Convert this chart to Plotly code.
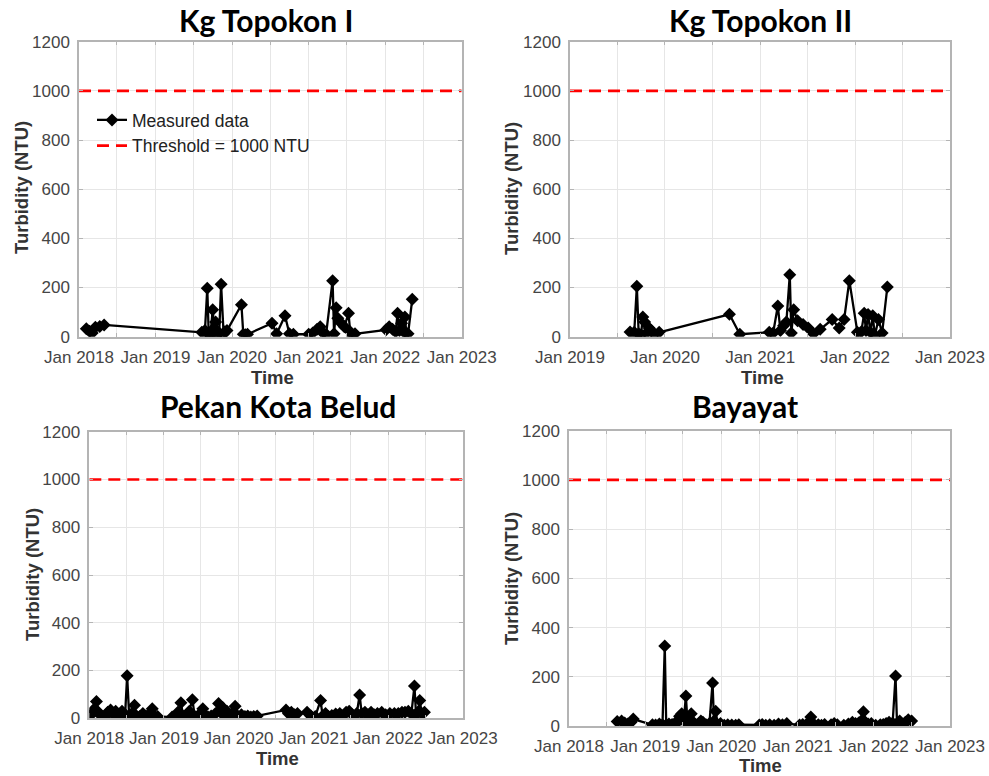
import plotly.graph_objects as go

W, H = 989, 776
THRESHOLD = 1000

# ---- Kg Topokon I ----
topokon1_dates = [
    "2018-02-05", "2018-02-20", "2018-03-05", "2018-03-20", "2018-04-10", "2018-05-01",
    "2019-08-10", "2019-08-25", "2019-09-05", "2019-09-12", "2019-09-20", "2019-10-01",
    "2019-10-08", "2019-10-15", "2019-10-22", "2019-11-01", "2019-11-10", "2019-11-22",
    "2019-11-28", "2019-12-08", "2020-02-15", "2020-02-24", "2020-03-05", "2020-03-15",
    "2020-07-10", "2020-08-01", "2020-09-10", "2020-10-01", "2020-10-20", "2021-01-01",
    "2021-01-20", "2021-02-10", "2021-02-25", "2021-03-10", "2021-03-25", "2021-04-25",
    "2021-05-02", "2021-05-12", "2021-05-20", "2021-06-05", "2021-06-20", "2021-07-10",
    "2021-07-18", "2021-07-28", "2021-08-10", "2022-01-05", "2022-01-20", "2022-02-05",
    "2022-02-20", "2022-03-01", "2022-03-10", "2022-03-20", "2022-03-30", "2022-04-05",
    "2022-04-12", "2022-04-20", "2022-05-10",
]
topokon1_ntu = [
    32, 22, 15, 38, 42, 48,
    18, 25, 197, 10, 5, 110,
    35, 60, 8, 15, 213, 12,
    20, 25, 130, 10, 8, 10,
    55, 12, 85, 12, 10, 10,
    15, 30, 40, 15, 10, 228,
    12, 118, 75, 55, 40, 95,
    20, 5, 12, 28, 40, 30,
    20, 95, 25, 55, 20, 80,
    15, 12, 152,
]

# ---- Kg Topokon II ----
topokon2_dates = [
    "2019-08-20", "2019-09-05", "2019-09-15", "2019-09-22", "2019-10-01", "2019-10-08",
    "2019-10-15", "2019-10-22", "2019-11-01", "2019-11-10", "2019-11-20", "2019-12-10",
    "2020-09-05", "2020-10-15", "2021-02-05", "2021-02-20", "2021-03-10", "2021-03-20",
    "2021-04-01", "2021-04-12", "2021-04-25", "2021-05-01", "2021-05-10", "2021-05-25",
    "2021-06-15", "2021-07-05", "2021-07-25", "2021-08-20", "2021-10-05", "2021-11-01",
    "2021-11-20", "2021-12-10", "2022-01-10", "2022-01-25", "2022-02-05", "2022-02-12",
    "2022-02-20", "2022-03-01", "2022-03-10", "2022-03-18", "2022-04-01", "2022-04-15",
    "2022-05-05",
]
topokon2_ntu = [
    19, 18, 205, 12, 8, 80,
    60, 15, 35, 25, 10, 18,
    91, 10, 18, 15, 125, 25,
    45, 60, 252, 15, 110, 65,
    50, 35, 12, 30, 70, 35,
    70, 228, 18, 20, 95, 25,
    90, 18, 85, 5, 70, 15,
    202,
]

# ---- Pekan Kota Belud ----
kotabelud_dates = [
    "2018-01-10", "2018-01-20", "2018-02-05", "2018-02-15", "2018-02-28", "2018-03-10",
    "2018-03-20", "2018-04-01", "2018-04-15", "2018-04-25", "2018-05-10", "2018-05-25",
    "2018-06-10", "2018-06-25", "2018-07-05", "2018-07-15", "2018-07-28", "2018-08-10",
    "2018-08-20", "2018-09-05", "2018-09-20", "2018-10-05", "2018-10-20", "2018-11-05",
    "2018-11-15", "2018-12-01", "2019-02-10", "2019-02-25", "2019-03-10", "2019-03-25",
    "2019-04-05", "2019-04-20", "2019-05-05", "2019-05-20", "2019-06-01", "2019-06-15",
    "2019-07-01", "2019-07-10", "2019-07-20", "2019-08-05", "2019-08-20", "2019-09-10",
    "2019-09-25", "2019-10-05", "2019-10-15", "2019-10-25", "2019-11-05", "2019-11-15",
    "2019-12-01", "2019-12-15", "2019-12-28", "2020-01-15", "2020-02-01", "2020-02-15",
    "2020-03-01", "2020-03-15", "2020-04-01", "2020-08-20", "2020-09-01", "2020-09-15",
    "2020-10-01", "2020-10-15", "2020-12-01", "2020-12-20", "2021-01-10", "2021-02-05",
    "2021-02-15", "2021-03-01", "2021-03-15", "2021-04-01", "2021-04-20", "2021-05-10",
    "2021-05-25", "2021-06-10", "2021-06-25", "2021-07-10", "2021-08-01", "2021-08-15",
    "2021-08-25", "2021-09-10", "2021-09-25", "2021-10-10", "2021-10-25", "2021-11-10",
    "2021-12-01", "2021-12-20", "2022-01-10", "2022-02-01", "2022-02-20", "2022-03-10",
    "2022-03-25", "2022-04-10", "2022-04-25", "2022-05-10", "2022-05-18", "2022-05-26",
    "2022-06-05", "2022-06-15", "2022-06-28",
]
kotabelud_ntu = [
    15, 35, 70, 25, 10, 5,
    8, 25, 35, 20, 30, 10,
    30, 15, 178, 10, 20, 55,
    10, 8, 20, 10, 15, 40,
    10, 8, 5, 10, 25, 65,
    10, 5, 30, 78, 8, 10,
    20, 40, 15, 5, 10, 20,
    62, 25, 45, 10, 30, 5,
    20, 50, 10, 15, 8, 10,
    5, 8, 10, 35, 20, 25,
    15, 20, 25, 10, 8, 75,
    10, 20, 8, 12, 18, 20,
    10, 25, 30, 15, 20, 98,
    20, 25, 15, 25, 15, 20,
    25, 15, 20, 20, 20, 25,
    25, 30, 20, 135, 15, 25,
    75, 20, 25,
]

# ---- Bayayat ----
bayayat_dates = [
    "2018-08-20", "2018-09-10", "2018-09-25", "2018-10-10", "2018-10-25", "2018-11-05",
    "2019-02-05", "2019-02-20", "2019-03-10", "2019-03-25", "2019-04-05", "2019-04-12",
    "2019-04-25", "2019-05-10", "2019-05-25", "2019-06-05", "2019-06-15", "2019-06-25",
    "2019-07-05", "2019-07-15", "2019-07-22", "2019-08-01", "2019-08-10", "2019-08-20",
    "2019-09-01", "2019-09-15", "2019-09-25", "2019-10-05", "2019-10-20", "2019-11-05",
    "2019-11-20", "2019-11-27", "2019-12-05", "2019-12-15", "2019-12-28", "2020-01-15",
    "2020-02-01", "2020-02-20", "2020-03-10", "2020-03-25", "2020-07-01", "2020-07-15",
    "2020-08-01", "2020-08-20", "2020-09-10", "2020-10-01", "2020-10-20", "2020-11-10",
    "2021-01-10", "2021-01-25", "2021-02-10", "2021-02-25", "2021-03-05", "2021-03-15",
    "2021-03-25", "2021-04-10", "2021-04-25", "2021-05-10", "2021-06-10", "2021-06-25",
    "2021-07-10", "2021-08-10", "2021-09-01", "2021-09-20", "2021-10-05", "2021-10-20",
    "2021-11-01", "2021-11-12", "2021-11-22", "2021-12-05", "2021-12-20", "2022-01-10",
    "2022-02-01", "2022-02-15", "2022-03-01", "2022-03-15", "2022-04-01", "2022-04-15",
    "2022-04-22", "2022-05-05", "2022-05-15", "2022-06-01", "2022-06-15", "2022-07-01",
]
bayayat_ntu = [
    18, 20, 12, 8, 15, 28,
    5, 4, 8, 5, 325, 5,
    8, 6, 12, 15, 40, 50,
    20, 122, 30, 10, 50, 15,
    5, 8, 20, 15, 5, 10,
    175, 20, 60, 5, 10, 3,
    5, 4, 3, 5, 4, 6,
    3, 5, 3, 8, 5, 10,
    4, 6, 5, 12, 37, 8,
    3, 5, 3, 6, 5, 10,
    5, 3, 8, 15, 10, 12,
    20, 58, 15, 8, 10, 3,
    5, 6, 10, 15, 12, 203,
    10, 20, 8, 15, 25, 20,
]

# Half-yearly tick positions; only January ticks carry a label
ticks_2018_2023 = ["2018-01-01", "2018-07-01", "2019-01-01", "2019-07-01", "2020-01-01",
                   "2020-07-01", "2021-01-01", "2021-07-01", "2022-01-01", "2022-07-01",
                   "2023-01-01"]
labels_2018_2023 = ["Jan 2018", "", "Jan 2019", "", "Jan 2020", "", "Jan 2021", "",
                    "Jan 2022", "", "Jan 2023"]
ticks_2019_2023 = ["2019-01-01", "2019-07-01", "2020-01-01", "2020-07-01", "2021-01-01",
                   "2021-07-01", "2022-01-01", "2022-07-01", "2023-01-01"]
labels_2019_2023 = ["Jan 2019", "", "Jan 2020", "", "Jan 2021", "", "Jan 2022", "",
                    "Jan 2023"]
y_ticks = [0, 200, 400, 600, 800, 1000, 1200]

stations = ["Kg Topokon I", "Kg Topokon II", "Pekan Kota Belud", "Bayayat"]
series = [
    (topokon1_dates, topokon1_ntu),
    (topokon2_dates, topokon2_ntu),
    (kotabelud_dates, kotabelud_ntu),
    (bayayat_dates, bayayat_ntu),
]
x_ranges = [
    ("2018-01-01", "2023-01-01"),
    ("2019-01-01", "2023-01-01"),
    ("2018-01-01", "2023-01-01"),
    ("2018-01-01", "2023-01-01"),
]
x_ticks = [
    (ticks_2018_2023, labels_2018_2023),
    (ticks_2019_2023, labels_2019_2023),
    (ticks_2018_2023, labels_2018_2023),
    (ticks_2018_2023, labels_2018_2023),
]

# Panel boxes in pixels: (left, right, top, bottom)
boxes = [
    (79, 461.7, 41.7, 336.7),
    (570, 950, 41.7, 336.7),
    (89.3, 462.7, 431.7, 718.3),
    (569, 950, 430.7, 726),
]
# Text anchors in pixels
title_pos = [(266, 20), (760, 20), (278, 406), (745, 406)]
ytitle_pos = [(21, 188), (511, 188), (32, 575), (511, 578)]
xtitle_pos = [(272, 377), (762, 377), (277, 758), (760, 765)]


def px(x):
    return x / W


def py(y):
    return 1 - y / H


TICK_FONT = dict(family="Liberation Sans, Arial, sans-serif", size=17, color="#454545")
LABEL_FONT = dict(family="Liberation Sans, Arial, sans-serif", size=18.5, color="#333333")
TITLE_FONT = dict(family="Lato, Carlito, sans-serif", size=30, color="#000000")

fig = go.Figure()
layout = dict(
    width=W, height=H,
    margin=dict(l=0, r=0, t=0, b=0, autoexpand=False),
    paper_bgcolor="white", plot_bgcolor="white",
    showlegend=True,
    legend=dict(
        x=px(92), y=py(102), xanchor="left", yanchor="top",
        bgcolor="rgba(0,0,0,0)", borderwidth=0,
        font=dict(family="Liberation Sans, Arial, sans-serif", size=17.5, color="#222222"),
        tracegroupgap=0,
    ),
    annotations=[],
)

for i in range(4):
    n = "" if i == 0 else str(i + 1)
    xa, ya = "x" + n, "y" + n
    left, right, top, bottom = boxes[i]
    dates, ntu = series[i]

    fig.add_trace(go.Scatter(
        x=dates, y=ntu, xaxis=xa, yaxis=ya,
        mode="lines+markers", name="Measured data",
        line=dict(color="black", width=2.3),
        marker=dict(symbol="diamond", size=10, color="black"),
        showlegend=(i == 0), legendrank=1,
    ))
    fig.add_trace(go.Scatter(
        x=list(x_ranges[i]), y=[THRESHOLD, THRESHOLD], xaxis=xa, yaxis=ya,
        mode="lines", name="Threshold = 1000 NTU",
        line=dict(color="#ff0000", width=2.6, dash="12px,7px"),
        showlegend=(i == 0), legendrank=2,
    ))

    layout["xaxis" + n] = dict(
        domain=[px(left), px(right)], anchor=ya, type="date",
        range=list(x_ranges[i]), automargin=False,
        tickmode="array", tickvals=x_ticks[i][0], ticktext=x_ticks[i][1], tickangle=0,
        showgrid=True, gridcolor="#e6e6e6", gridwidth=1,
        showline=True, linecolor="#b4b4b4", linewidth=1.5, mirror="allticks",
        ticks="inside", ticklen=4, tickcolor="#b4b4b4",
        tickfont=TICK_FONT, ticklabelstandoff=4, zeroline=False,
    )
    layout["yaxis" + n] = dict(
        domain=[py(bottom), py(top)], anchor=xa,
        range=[0, 1200], tickmode="array", tickvals=y_ticks, automargin=False,
        showgrid=True, gridcolor="#e6e6e6", gridwidth=1,
        showline=True, linecolor="#b4b4b4", linewidth=1.5, mirror="allticks",
        ticks="inside", ticklen=4, tickcolor="#b4b4b4",
        tickfont=TICK_FONT, ticklabelstandoff=4, zeroline=False,
    )

    tx, ty = title_pos[i]
    layout["annotations"].append(dict(
        text="<b>%s</b>" % stations[i], x=px(tx), y=py(ty), xref="paper", yref="paper",
        xanchor="center", yanchor="middle", showarrow=False, font=TITLE_FONT,
    ))
    yx, yy = ytitle_pos[i]
    layout["annotations"].append(dict(
        text="<b>Turbidity (NTU)</b>", x=px(yx), y=py(yy), xref="paper", yref="paper",
        xanchor="center", yanchor="middle", showarrow=False, textangle=-90, font=LABEL_FONT,
    ))
    xx, xy = xtitle_pos[i]
    layout["annotations"].append(dict(
        text="<b>Time</b>", x=px(xx), y=py(xy), xref="paper", yref="paper",
        xanchor="center", yanchor="middle", showarrow=False, font=LABEL_FONT,
    ))

fig.update_layout(**layout)
fig.write_html("out.html")
